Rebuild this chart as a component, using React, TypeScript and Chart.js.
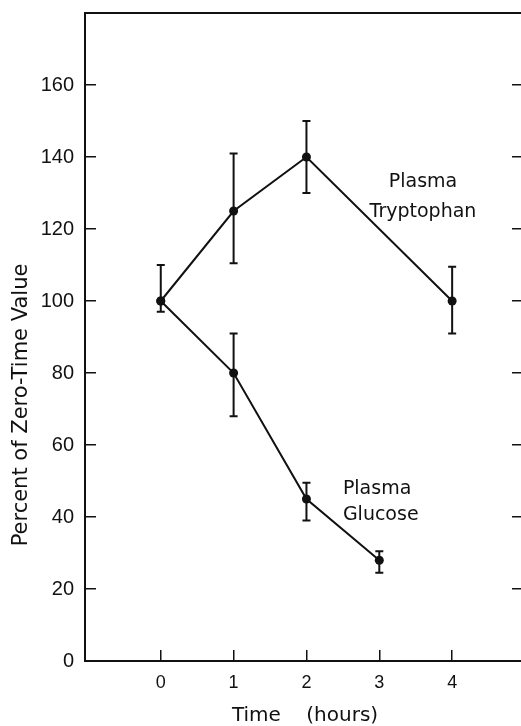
import React, { useEffect, useRef } from 'react';
import { Chart, registerables } from 'chart.js';

Chart.register(...registerables);

// ---- data ----
const xTicks = [0, 1, 2, 3, 4];
const yTicks = [0, 20, 40, 60, 80, 100, 120, 140, 160];
const rightTicks = [20, 40, 60, 80, 100, 120, 140, 160];

const tryptophanHours = [0, 1, 2, 4];
const tryptophanValues = [100, 125, 140, 100];
const tryptophanHigh = [110, 141, 150, 109.5];
const tryptophanLow = [100, 110.5, 130, 91];

const glucoseHours = [0, 1, 2, 3];
const glucoseValues = [100, 80, 45, 28];
const glucoseHigh = [100, 91, 49.5, 30.5];
const glucoseLow = [97, 68, 39, 24.5];

const labelLines = [
  { text: 'Plasma', x: 3.6, y: 131.7, align: 'center' },
  { text: 'Tryptophan', x: 3.6, y: 123.3, align: 'center' },
  { text: 'Plasma', x: 2.5, y: 46.4, align: 'left' },
  { text: 'Glucose', x: 2.5, y: 39.2, align: 'left' },
];

const yTitle = 'Percent of Zero-Time Value';
const xTitle = 'Time    (hours)';

const INK = '#111111';

const errorBarPlugin = {
  id: 'errorBars',
  afterDatasetsDraw(chart: any) {
    const { ctx, scales } = chart;
    const xs = scales.x;
    const ys = scales.y;
    const series = [
      { hours: tryptophanHours, values: tryptophanValues, hi: tryptophanHigh, lo: tryptophanLow },
      { hours: glucoseHours, values: glucoseValues, hi: glucoseHigh, lo: glucoseLow },
    ];
    ctx.save();
    ctx.strokeStyle = INK;
    ctx.lineWidth = 2;
    const cap = 4;
    series.forEach((s) => {
      s.hours.forEach((h, i) => {
        const px = xs.getPixelForValue(h);
        const pHi = ys.getPixelForValue(s.hi[i]);
        const pLo = ys.getPixelForValue(s.lo[i]);
        ctx.beginPath();
        ctx.moveTo(px, pHi);
        ctx.lineTo(px, pLo);
        if (s.hi[i] !== s.values[i]) {
          ctx.moveTo(px - cap, pHi);
          ctx.lineTo(px + cap, pHi);
        }
        if (s.lo[i] !== s.values[i]) {
          ctx.moveTo(px - cap, pLo);
          ctx.lineTo(px + cap, pLo);
        }
        ctx.stroke();
      });
    });
    ctx.restore();
  },
};

const labelPlugin = {
  id: 'seriesLabels',
  afterDraw(chart: any) {
    const { ctx, scales } = chart;
    ctx.save();
    ctx.fillStyle = INK;
    ctx.font = '19px "DejaVu Sans"';
    ctx.textBaseline = 'alphabetic';
    labelLines.forEach((l) => {
      ctx.textAlign = l.align as CanvasTextAlign;
      ctx.fillText(l.text, scales.x.getPixelForValue(l.x), scales.y.getPixelForValue(l.y));
    });
    // rotated y-axis title
    ctx.translate(22, 405);
    ctx.rotate(-Math.PI / 2);
    ctx.font = '21px "DejaVu Sans"';
    ctx.textAlign = 'center';
    ctx.textBaseline = 'middle';
    ctx.fillText(yTitle, 0, 0);
    ctx.restore();
  },
};

export default function App() {
  const ref = useRef<HTMLCanvasElement | null>(null);

  useEffect(() => {
    if (!ref.current) return;
    const tickFontY = { family: 'Liberation Sans', size: 20 };
    const tickFontX = { family: 'Liberation Sans', size: 18 };
    const chart = new Chart(ref.current, {
      type: 'line',
      data: {
        datasets: [
          {
            label: 'Plasma Tryptophan',
            data: tryptophanHours.map((h, i) => ({ x: h, y: tryptophanValues[i] })),
            borderColor: INK,
            backgroundColor: INK,
            borderWidth: 2,
            pointRadius: 4.5,
            pointBackgroundColor: INK,
            pointBorderWidth: 0,
            tension: 0,
          },
          {
            label: 'Plasma Glucose',
            data: glucoseHours.map((h, i) => ({ x: h, y: glucoseValues[i] })),
            borderColor: INK,
            backgroundColor: INK,
            borderWidth: 2,
            pointRadius: 4.5,
            pointBackgroundColor: INK,
            pointBorderWidth: 0,
            tension: 0,
          },
        ],
      },
      options: {
        animation: false,
        responsive: false,
        maintainAspectRatio: false,
        layout: { padding: { top: 13, left: 0, right: 0, bottom: 0 } },
        plugins: { legend: { display: false }, tooltip: { enabled: false } },
        scales: {
          x: {
            type: 'linear',
            position: 'bottom',
            min: -1.04,
            max: 5,
            afterBuildTicks: (s: any) => {
              s.ticks = xTicks.map((v) => ({ value: v }));
            },
            afterFit: (s: any) => {
              s.height = 65;
              s.paddingLeft = 0;
              s.paddingRight = 0;
            },
            grid: { drawOnChartArea: false, drawTicks: true, tickLength: -11, color: INK, lineWidth: 1.5 },
            border: { display: true, color: INK, width: 2 },
            ticks: { color: INK, padding: 22, font: tickFontX, maxRotation: 0, autoSkip: false },
            title: {
              display: true,
              text: xTitle,
              color: INK,
              font: { family: 'DejaVu Sans', size: 20, lineHeight: 1 },
              padding: 0,
            },
          },
          x2: {
            type: 'linear',
            position: 'top',
            min: -1.04,
            max: 5,
            afterFit: (s: any) => {
              s.height = 0;
              s.paddingLeft = 0;
              s.paddingRight = 0;
            },
            grid: { display: true, drawOnChartArea: false, drawTicks: false },
            border: { display: true, color: INK, width: 2 },
            ticks: { display: false },
          },
          y: {
            type: 'linear',
            position: 'left',
            min: 0,
            max: 180,
            afterBuildTicks: (s: any) => {
              s.ticks = yTicks.map((v) => ({ value: v }));
            },
            afterFit: (s: any) => {
              s.width = 85;
              s.paddingTop = 0;
              s.paddingBottom = 0;
            },
            grid: { drawOnChartArea: false, drawTicks: true, tickLength: -11, color: INK, lineWidth: 1.5 },
            border: { display: true, color: INK, width: 2 },
            ticks: { color: INK, padding: 22, font: tickFontY, autoSkip: false },
          },
          y2: {
            type: 'linear',
            position: 'right',
            min: 0,
            max: 180,
            afterBuildTicks: (s: any) => {
              s.ticks = rightTicks.map((v) => ({ value: v }));
            },
            afterFit: (s: any) => {
              s.width = 5;
              s.paddingTop = 0;
              s.paddingBottom = 0;
            },
            grid: { drawOnChartArea: false, drawTicks: true, tickLength: -13, color: INK, lineWidth: 1.5 },
            border: { display: true, color: INK, width: 2 },
            ticks: { display: false },
          },
        },
      } as any,
      plugins: [errorBarPlugin, labelPlugin],
    });
    return () => chart.destroy();
  }, []);

  return (
    <div
      style={{
        position: 'fixed',
        left: 0,
        top: 0,
        width: 521,
        height: 726,
        overflow: 'hidden',
        background: '#ffffff',
      }}
    >
      <canvas ref={ref} width={530} height={726} style={{ display: 'block' }} />
    </div>
  );
}
